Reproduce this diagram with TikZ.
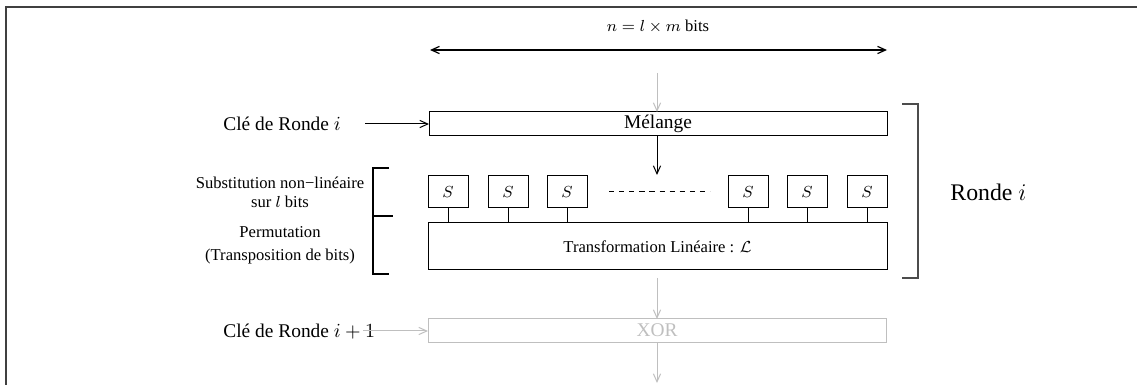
\documentclass[tikz,border=0pt]{standalone}
\usepackage{fontspec}
\setmainfont{Liberation Serif}
\usetikzlibrary{arrows.meta}
\definecolor{lgray}{gray}{0.75}
\tikzset{
  px/.style={x=0.5pt,y=-0.5pt},
  boxnode/.style={draw,inner sep=0pt,outer sep=0pt,line width=0.5pt},
  sbox/.style={boxnode,minimum width=20pt,minimum height=16pt,font=\fontsize{8.3}{10}\selectfont},
  wide/.style={boxnode,minimum width=229pt},
  arr/.style={-{Straight Barb[length=4pt,width=3.6pt]},line width=0.5pt},
  garr/.style={arr,draw=lgray},
  mainfont/.style={font=\fontsize{9.7}{11}\selectfont},
  smallfont/.style={font=\fontsize{8.3}{10}\selectfont},
  brk/.style={line width=0.6pt},
  lefttext/.style={mainfont,anchor=west,inner sep=0pt}
}
\begin{document}
\begin{tikzpicture}[px]
\useasboundingbox (0,0) rectangle (1137,385);
% frame
\draw[line width=0.9pt,black!75] (1137,7) -- (6,7) -- (6,385);
% width indicator
\node[smallfont] (nbits) at (658,27) {$n=l\times m$ bits};
\coordinate (wl) at (430,50);
\coordinate (wr) at (887,50);
\draw[{Straight Barb[length=4pt,width=3.6pt]}-{Straight Barb[length=4pt,width=3.6pt]},line width=0.6pt] (wl) -- (wr);
% Melange
\node[wide,minimum height=12pt,mainfont] (mel) at (658,124) {Mélange};
\coordinate (intop) at (657,73);
\draw[garr] (intop) -- (intop |- mel.north);
\node[lefttext] (cle) at (223,124) {Clé de Ronde $i$};
\coordinate (cles) at (365,124);
\draw[arr] (cles) -- (cles -| mel.west);
% S boxes
\node[sbox] (s1) at (448,192) {$S$};
\node[sbox] (s2) at (508,192) {$S$};
\node[sbox] (s3) at (567,192) {$S$};
\node[sbox] (s4) at (748,192) {$S$};
\node[sbox] (s5) at (807,192) {$S$};
\node[sbox] (s6) at (867,192) {$S$};
\coordinate (dl) at (609,192);
\coordinate (dr) at (710,192);
\draw[dash pattern=on 2.6pt off 2.45pt,line width=0.5pt] (dl) -- (dr);
\coordinate (mid) at (657,175);
\draw[arr] (mel.south -| mid) -- (mid);
% linear transformation
\node[boxnode,minimum width=229.5pt,minimum height=23.5pt,smallfont] (lin) at (657.5,246.5) {Transformation Linéaire : $\mathcal{L}$};
\foreach \s in {s1,s2,s3,s4,s5,s6}
  \draw[line width=0.5pt] (\s.south) -- (\s.south |- lin.north);
% left labels and bracket
\node[smallfont,align=center] (subst) at (280,192.5) {Substitution non−linéaire\\[-0.6pt] sur $l$ bits};
\node[smallfont,align=center] (perm) at (280,245) {Permutation\\[1.6pt] (Transposition de bits)};
\draw[brk] (389,168) -- (373,168) -- (373,274) -- (389,274);
\draw[brk] (373,216) -- (393,216);
% right bracket
\draw[brk,black!70] (902,104) -- (918,104) -- (918,278) -- (902,278);
\node[font=\fontsize{11.9}{13}\selectfont,anchor=west,inner sep=0pt] (ronde) at (950,192) {Ronde $i$};
% XOR
\node[wide,minimum height=11.5pt,draw=lgray,text=lgray,mainfont] (xor) at (657,330.5) {XOR};
\coordinate (lout) at (657,278);
\draw[garr] (lout) -- (xor.north -| lout);
\coordinate (xout) at (657,383);
\draw[garr] (xor.south -| xout) -- (xout);
\node[lefttext] (cle2) at (223,332) {Clé de Ronde $i+1$};
\coordinate (cle2s) at (363,331);
\draw[garr] (cle2s) -- (cle2s -| xor.west);
\end{tikzpicture}
\end{document}
